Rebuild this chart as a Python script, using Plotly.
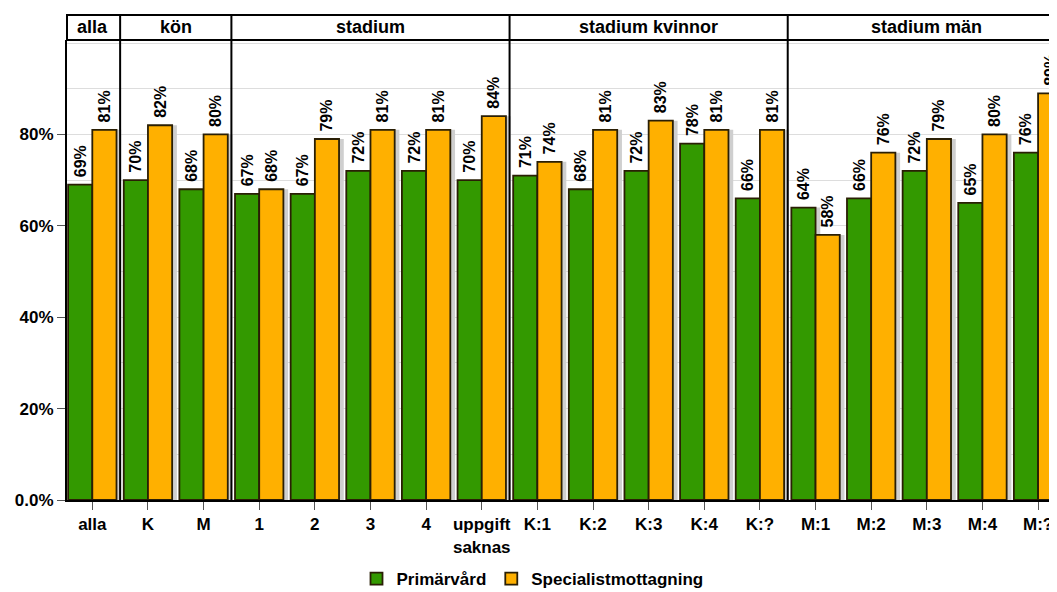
import plotly.graph_objects as go

categories = ["alla", "K", "M", "1", "2", "3", "4", "uppgift<br>saknas",
              "K:1", "K:2", "K:3", "K:4", "K:?",
              "M:1", "M:2", "M:3", "M:4", "M:?"]
primarvard = [69, 70, 68, 67, 67, 72, 72, 70, 71, 68, 72, 78, 66, 64, 66, 72, 65, 76]
specialist = [81, 82, 80, 68, 79, 81, 81, 84, 74, 81, 83, 81, 81, 58, 76, 79, 80, 89]
groups = ["alla", "kön", "stadium", "stadium kvinnor", "stadium män"]
group_sizes = [1, 2, 5, 5, 5]
ytick_vals = [0, 0.2, 0.4, 0.6, 0.8]
ytick_text = ["0.0%", "20%", "40%", "60%", "80%"]

FONT = "Liberation Sans, Arial, sans-serif"
# the page body has an 8px margin, so the figure is drawn 8px in from the window edge
W, H = 1049, 584
ML, MT, MB = 59, 32, 92
plot_h = H - MT - MB
strip = 25 / plot_h
BW = 0.435

fig = go.Figure()
# soft shadow behind each orange bar
fig.add_trace(go.Bar(x=categories, y=[v / 100 for v in specialist], width=BW, offset=0.085,
                     marker=dict(color="#cfcfcf", line=dict(width=0)),
                     showlegend=False, hoverinfo="skip"))
fig.add_trace(go.Bar(x=categories, y=[v / 100 for v in primarvard], width=BW, offset=0.085 - BW,
                     marker=dict(color="#cfcfcf", line=dict(width=0)),
                     showlegend=False, hoverinfo="skip"))
for name, vals, col, off in [("Primärvård", primarvard, "#339900", -BW),
                             ("Specialistmottagning", specialist, "#FFB000", 0)]:
    fig.add_trace(go.Bar(
        x=categories, y=[v / 100 for v in vals], name=name, width=BW, offset=off,
        marker=dict(color=col, line=dict(color="#2a1f05", width=1.8)),
        text=[f"\u00a0{v}%" for v in vals], textposition="outside", textangle=-90,
        textfont=dict(family=FONT, size=16, color="black", weight="bold"),
        constraintext="none", cliponaxis=False,
    ))

shapes = [dict(type="rect", xref="paper", yref="paper", x0=0, x1=1.02, y0=1, y1=1 + strip,
               line=dict(color="black", width=2), layer="above")]
annotations = []
start = 0
for g, n in zip(groups, group_sizes):
    annotations.append(dict(x=start + (n - 1) / 2, y=1 + strip / 2, xref="x", yref="paper",
                            text=g, showarrow=False, yanchor="middle",
                            font=dict(family=FONT, size=18, color="black", weight="bold")))
    if start > 0:
        shapes.append(dict(type="line", xref="x", yref="paper", x0=start - 0.5, x1=start - 0.5,
                           y0=0, y1=1 + strip, line=dict(color="black", width=2), layer="above"))
    start += n

fig.update_layout(
    width=W, height=H, margin=dict(l=ML, r=0, t=MT, b=MB),
    paper_bgcolor="white", plot_bgcolor="white",
    barmode="overlay",
    font=dict(family=FONT, size=14, color="black"),
    shapes=shapes, annotations=annotations,
    showlegend=True,
    legend=dict(orientation="h", xref="container", yref="container", x=0.5, y=0.022,
                xanchor="center", yanchor="middle",
                font=dict(family=FONT, size=17, color="black", weight="bold"),
                traceorder="normal"),
)
fig.update_xaxes(type="category", range=[-0.455, 17.34], showline=True, linecolor="black",
                 linewidth=2, ticks="outside", ticklen=8, tickcolor="#555",
                 tickfont=dict(family=FONT, size=17, color="black", weight="bold"),
                 showgrid=False)
fig.update_yaxes(range=[0, 1.0066], tickvals=ytick_vals, ticktext=ytick_text,
                 showline=True, linecolor="black", linewidth=2,
                 ticks="outside", ticklen=8, tickcolor="#555",
                 tickfont=dict(family=FONT, size=17, color="black", weight="bold"),
                 showgrid=True, gridcolor="#dddddd", gridwidth=1, zeroline=False,
                 minor=dict(dtick=0.1, showgrid=True, gridcolor="#dddddd", ticks=""))

fig.write_html("out.html")
